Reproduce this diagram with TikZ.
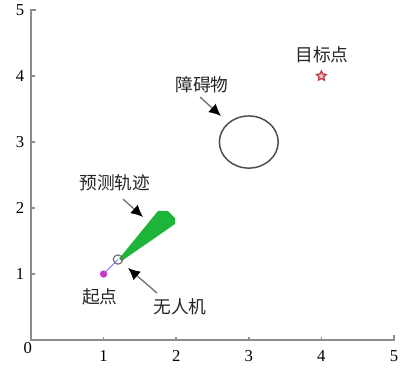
\documentclass[tikz,border=0pt]{standalone}
\usepackage{fontspec}
\setmainfont{Liberation Serif}
\newfontfamily\cjk{Noto Sans CJK SC}
\usetikzlibrary{arrows.meta,shapes.geometric}
\definecolor{axisgray}{HTML}{8C8C8C}
\definecolor{trajgreen}{HTML}{1DB43A}
\definecolor{startmag}{HTML}{C837C8}
\definecolor{starred}{HTML}{C0404A}
\tikzset{
  axisline/.style={draw=axisgray,line width=1.1pt},
  ticklab/.style={inner sep=0pt,font=\fontsize{12.5}{13}\selectfont},
  cnlab/.style={inner sep=0pt,font=\cjk\fontsize{13.3}{14}\selectfont,text=black!85},
  callout/.style={draw=black!55,line width=1pt,-{Latex[black,length=9pt,width=8.5pt]}},
}
\begin{document}
\begin{tikzpicture}[x=54.45pt,y=49.5pt]
\useasboundingbox[fill=white] (-0.427,-0.424) rectangle (5.248,5.152);
% axes
\draw[axisline] (0.07,5) -- (0,5) -- (0,0) -- (5,0) -- (5,0.07);
\foreach \i in {1,2,3,4} {
  \draw[axisline] (\i,0) -- (\i,0.05);
  \draw[axisline] (0,\i) -- (0.05,\i);
}
\node[ticklab] (x0) at (-0.045,-0.12) {0};
\foreach \i in {1,2,3,4,5} {
  \node[ticklab] (x\i) at (\i,-0.24) {\i};
}
\foreach \i in {1,2,3,4,5} {
  \node[ticklab] (y\i) at (-0.15,\i) {\i};
}
% obstacle
\draw[black!70,line width=1.1pt] (3,3) ellipse [x radius=0.405, y radius=0.395];
\coordinate (obst) at (3,3);
% goal star
\node[star,star points=5,star point ratio=2,draw=starred,fill=starred!35,line width=1pt,inner sep=0pt,minimum size=7.5pt] (goal) at (4,4) {};
% predicted trajectory fan
\fill[trajgreen] (1.215,1.235) -- (1.749,1.955) -- (1.887,1.955) -- (1.983,1.848) -- (1.983,1.758) -- (1.245,1.195) -- cycle;
% start and drone
\node[circle,fill=startmag,inner sep=0pt,minimum size=5.5pt] (start) at (1,1) {};
\draw[blue!55,line width=0.7pt] (start) -- (1.198,1.22);
\node[circle,draw=black!55,line width=0.9pt,inner sep=0pt,minimum size=7pt] (uav) at (1.198,1.22) {};
% labels
\node[cnlab] (goallab) at (4.008,4.318) {目标点};
\node[cnlab] (obstlab) at (2.355,3.864) {障碍物};
\node[cnlab] (predlab) at (1.157,2.379) {预测轨迹};
\node[cnlab] (startlab) at (0.95,0.652) {起点};
\node[cnlab] (uavlab) at (2.052,0.5) {无人机};
% callout arrows
\coordinate (oa) at (2.328,3.682);
\coordinate (ob) at (2.617,3.394);
\coordinate (pa) at (1.267,2.136);
\coordinate (pb) at (1.543,1.864);
\coordinate (ua) at (1.736,0.712);
\coordinate (ub) at (1.336,1.091);
\draw[callout] (oa) -- (ob);
\draw[callout] (pa) -- (pb);
\draw[callout] (ua) -- (ub);
\end{tikzpicture}
\end{document}
